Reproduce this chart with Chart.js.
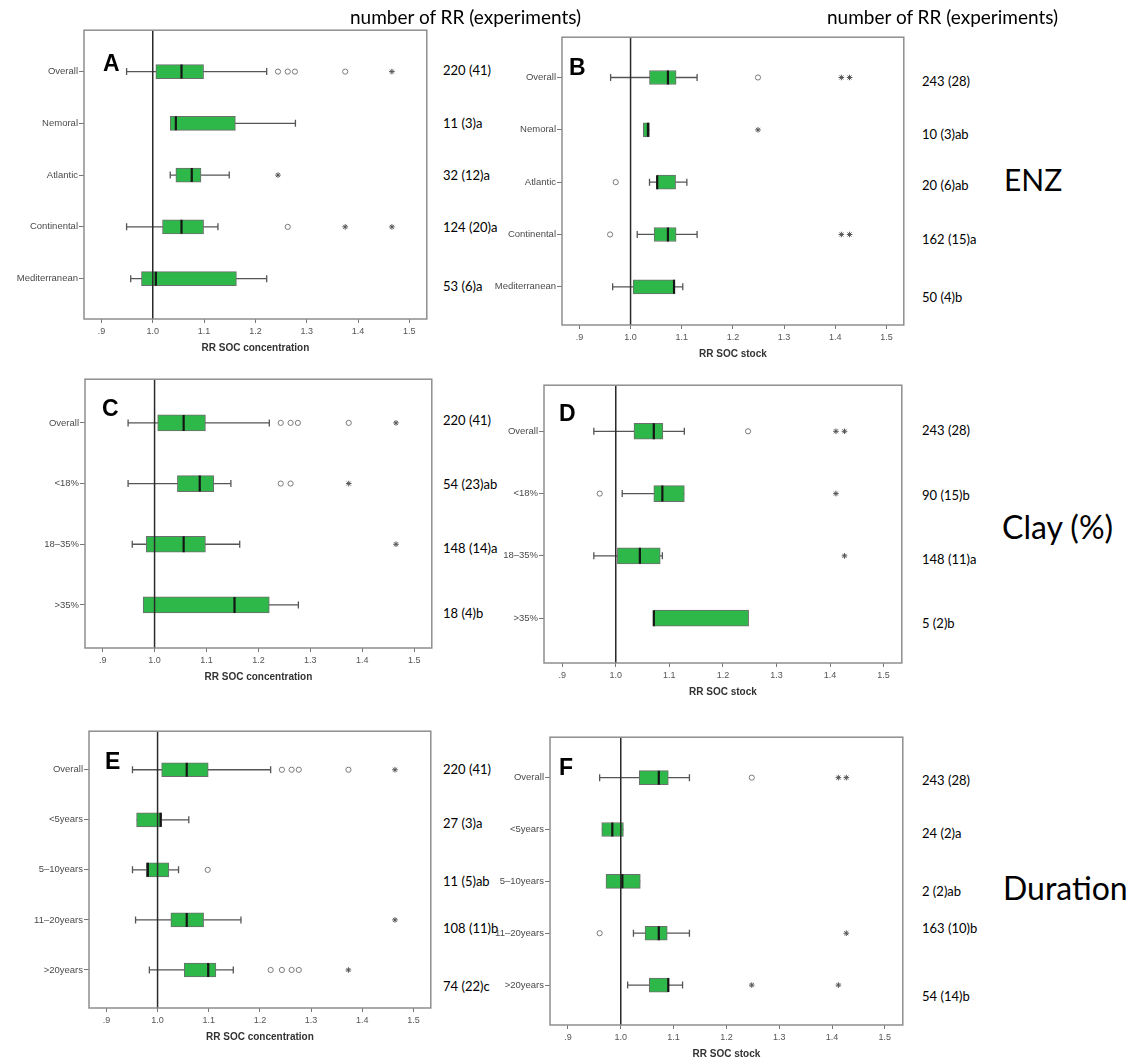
<!DOCTYPE html>
<html><head><meta charset="utf-8">
<script src="https://cdn.jsdelivr.net/npm/chart.js@4.4.0/dist/chart.umd.min.js"></script>
<style>
body{margin:0;background:#fff;width:1135px;height:1064px;position:relative;overflow:hidden;font-family:Lato,sans-serif}
.p{position:absolute}
.t{position:absolute;white-space:nowrap;color:#000;transform:translateY(-50%);line-height:1}
</style></head><body>
<script>
// x axis ticks shared by all panels
const xTicks = [0.9, 1.0, 1.1, 1.2, 1.3, 1.4, 1.5];
const xTickLabels = ['.9', '1.0', '1.1', '1.2', '1.3', '1.4', '1.5'];

// A - ENZ, SOC concentration
const catsA = ['Overall', 'Nemoral', 'Atlantic', 'Continental', 'Mediterranean'];
const loA  = [0.949, 1.034, 1.034, 0.949, 0.957];
const q1A  = [1.006, 1.034, 1.045, 1.019, 0.978];
const medA = [1.056, 1.045, 1.076, 1.056, 1.006];
const q3A  = [1.099, 1.161, 1.094, 1.099, 1.163];
const hiA  = [1.222, 1.278, 1.149, 1.127, 1.222];
const outA = [[1.244, 1.263, 1.277, 1.375], [], [], [1.263], []];
const extA = [[1.466], [], [1.244], [1.375, 1.466], []];
const nA   = ['220 (41)', '11 (3)a', '32 (12)a', '124 (20)a', '53 (6)a'];

// B - ENZ, SOC stock
const catsB = ['Overall', 'Nemoral', 'Atlantic', 'Continental', 'Mediterranean'];
const loB  = [0.961, 1.025, 1.037, 1.013, 0.965];
const q1B  = [1.037, 1.025, 1.052, 1.046, 1.005];
const medB = [1.073, 1.034, 1.052, 1.073, 1.085];
const q3B  = [1.089, 1.037, 1.088, 1.089, 1.086];
const hiB  = [1.130, 1.037, 1.110, 1.130, 1.102];
const outB = [[1.249], [], [0.971], [0.960], []];
const extB = [[1.412, 1.428], [1.249], [], [1.412, 1.428], []];
const nB   = ['243 (28)', '10 (3)ab', '20 (6)ab', '162 (15)a', '50 (4)b'];

// C - clay, SOC concentration
const catsC = ['Overall', '<18%', '18–35%', '>35%'];
const loC  = [0.949, 0.949, 0.957, 0.978];
const q1C  = [1.006, 1.044, 0.984, 0.978];
const medC = [1.056, 1.087, 1.056, 1.154];
const q3C  = [1.098, 1.114, 1.098, 1.221];
const hiC  = [1.221, 1.147, 1.164, 1.277];
const outC = [[1.243, 1.262, 1.276, 1.374], [1.243, 1.262], [], []];
const extC = [[1.465], [1.374], [1.465], []];
const nC   = ['220 (41)', '54 (23)ab', '148 (14)a', '18 (4)b'];

// D - clay, SOC stock
const catsD = ['Overall', '<18%', '18–35%', '>35%'];
const loD  = [0.959, 1.012, 0.959, 1.071];
const q1D  = [1.034, 1.071, 1.003, 1.071];
const medD = [1.071, 1.087, 1.045, 1.071];
const q3D  = [1.088, 1.128, 1.083, 1.248];
const hiD  = [1.128, 1.128, 1.087, 1.248];
const outD = [[1.247], [0.970], [], []];
const extD = [[1.411, 1.427], [1.411], [1.427], []];
const nD   = ['243 (28)', '90 (15)b', '148 (11)a', '5 (2)b'];

// E - duration, SOC concentration
const catsE = ['Overall', '<5years', '5–10years', '11–20years', '>20years'];
const loE  = [0.951, 0.959, 0.951, 0.957, 0.984];
const q1E  = [1.008, 0.959, 0.978, 1.026, 1.052];
const medE = [1.057, 1.006, 0.981, 1.057, 1.099];
const q3E  = [1.099, 1.008, 1.022, 1.090, 1.114];
const hiE  = [1.221, 1.061, 1.041, 1.163, 1.148];
const outE = [[1.243, 1.262, 1.276, 1.373], [], [1.098], [], [1.221, 1.243, 1.262, 1.276]];
const extE = [[1.464], [], [], [1.464], [1.373]];
const nE   = ['220 (41)', '27 (3)a', '11 (5)ab', '108 (11)b', '74 (22)c'];

// F - duration, SOC stock
const catsF = ['Overall', '<5years', '5–10years', '11–20years', '>20years'];
const loF  = [0.960, 0.964, 0.972, 1.024, 1.013];
const q1F  = [1.035, 0.964, 0.972, 1.046, 1.054];
const medF = [1.072, 0.984, 1.003, 1.072, 1.090];
const q3F  = [1.090, 1.005, 1.037, 1.088, 1.090];
const hiF  = [1.130, 1.005, 1.037, 1.130, 1.117];
const outF = [[1.248], [], [], [0.960], []];
const extF = [[1.412, 1.427], [], [], [1.427], [1.248, 1.412]];
const nF   = ['243 (28)', '24 (2)a', '2 (2)ab', '163 (10)b', '54 (14)b'];

// layout: frame = [left, top, right, bottom] of plot area
const panels = [
  {L: 'A', cats: catsA, lo: loA, q1: q1A, med: medA, q3: q3A, hi: hiA, out: outA, ext: extA, n: nA,
   title: 'RR SOC concentration', frame: [84, 25, 432, 319], yMin: -0.8, yMax: 4.78, bar: 14,
   nx: 443, ny: [70, 123, 175, 227, 286], letter: [103, 63]},
  {L: 'B', cats: catsB, lo: loB, q1: q1B, med: medB, q3: q3B, hi: hiB, out: outB, ext: extB, n: nB,
   title: 'RR SOC stock', frame: [562, 32, 909, 325], yMin: -0.77, yMax: 4.73, bar: 14,
   nx: 922, ny: [81, 134, 185, 239, 297], letter: [569, 67]},
  {L: 'C', cats: catsC, lo: loC, q1: q1C, med: medC, q3: q3C, hi: hiC, out: outC, ext: extC, n: nC,
   title: 'RR SOC concentration', frame: [85, 373, 438, 648], yMin: -0.72, yMax: 3.71, bar: 16,
   nx: 443, ny: [420, 484, 548, 613], letter: [102, 408]},
  {L: 'D', cats: catsD, lo: loD, q1: q1D, med: medD, q3: q3D, hi: hiD, out: outD, ext: extD, n: nD,
   title: 'RR SOC stock', frame: [544, 379, 908, 663], yMin: -0.74, yMax: 3.72, bar: 16,
   nx: 922, ny: [430, 495, 559, 623], letter: [559, 413]},
  {L: 'E', cats: catsE, lo: loE, q1: q1E, med: medE, q3: q3E, hi: hiE, out: outE, ext: extE, n: nE,
   title: 'RR SOC concentration', frame: [89, 726, 436, 1008], yMin: -0.77, yMax: 4.76, bar: 14,
   nx: 443, ny: [769, 823, 881, 928, 986], letter: [105, 761]},
  {L: 'F', cats: catsF, lo: loF, q1: q1F, med: medF, q3: q3F, hi: hiF, out: outF, ext: extF, n: nF,
   title: 'RR SOC stock', frame: [550, 732, 908, 1025], yMin: -0.78, yMax: 4.77, bar: 14,
   nx: 922, ny: [780, 833, 891, 928, 996], letter: [559, 767]}
];

const framePlugin = {
  id: 'frame',
  afterDraw(c) {
    const a = c.chartArea, ctx = c.ctx;
    ctx.save();
    ctx.strokeStyle = '#8e8e8e';
    ctx.lineWidth = 1.5;
    ctx.strokeRect(a.left, a.top, a.right - a.left, a.bottom - a.top);
    ctx.restore();
  }
};

function addText(txt, x, y, css) {
  const d = document.createElement('div');
  d.className = 't';
  d.textContent = txt;
  d.style.left = x + 'px';
  d.style.top = y + 'px';
  Object.assign(d.style, css || {});
  document.body.appendChild(d);
}

const yW = 80, padT = 4, padR = 4, xH = 35;

panels.forEach(p => {
  const [fl, ft, fr, fb] = p.frame;
  const w = fr - fl + yW + padR, h = fb - ft + padT + xH;
  const cv = document.createElement('canvas');
  cv.width = w; cv.height = h;
  cv.className = 'p';
  cv.style.left = (fl - yW) + 'px';
  cv.style.top = (ft - padT) + 'px';
  cv.style.width = w + 'px'; cv.style.height = h + 'px';
  document.body.appendChild(cv);

  const idx = p.cats.map((c, i) => i);
  const caps = [];
  idx.forEach(i => {
    if (p.lo[i] < p.q1[i]) caps.push({x: p.lo[i], y: i});
    if (p.hi[i] > p.q3[i]) caps.push({x: p.hi[i], y: i});
  });

  new Chart(cv.getContext('2d'), {
    type: 'bar',
    data: {
      datasets: [
        {type: 'scatter', showLine: true, spanGaps: false, order: 5,
         data: idx.flatMap(i => [{x: p.lo[i], y: i}, {x: p.hi[i], y: i}, {x: null, y: i}]),
         borderColor: '#555', borderWidth: 1.3, pointRadius: 0},
        {type: 'scatter', order: 4, data: caps, pointStyle: 'line', rotation: 90,
         pointRadius: 3.5, borderColor: '#555', borderWidth: 1.3},
        {type: 'bar', order: 3, data: idx.map(i => ({x: [p.q1[i], p.q3[i]], y: i})),
         backgroundColor: '#2eb84a', borderColor: '#6e6e6e', borderWidth: 1,
         borderSkipped: false, barThickness: p.bar},
        {type: 'scatter', showLine: true, order: 2,
         data: [{x: 1, y: p.yMin}, {x: 1, y: p.yMax}],
         borderColor: '#2a2a2a', borderWidth: 1.5, pointRadius: 0},
        {type: 'scatter', order: 1, data: idx.map(i => ({x: p.med[i], y: i})),
         pointStyle: 'line', rotation: 90, pointRadius: p.bar / 2,
         borderColor: '#151515', borderWidth: 2.2},
        {type: 'scatter', order: 0, data: idx.flatMap(i => p.out[i].map(v => ({x: v, y: i}))),
         pointStyle: 'circle', pointRadius: 2.6, backgroundColor: '#fff',
         borderColor: '#7a7a7a', borderWidth: 1},
        {type: 'scatter', order: 0, data: idx.flatMap(i => p.ext[i].map(v => ({x: v, y: i}))),
         pointStyle: 'star', pointRadius: 2.8, borderColor: '#555', borderWidth: 1}
      ]
    },
    options: {
      indexAxis: 'y',
      responsive: false,
      animation: false,
      events: [],
      layout: {padding: {top: padT, right: padR, left: 0, bottom: 0}},
      plugins: {legend: {display: false}, tooltip: {enabled: false}},
      scales: {
        x: {
          type: 'linear', min: 0.866, max: 1.534, offset: false,
          afterBuildTicks: s => { s.ticks = xTicks.map(v => ({value: v})); },
          afterFit: s => { s.height = xH; },
          ticks: {callback: (v, i) => xTickLabels[i], font: {family: 'Liberation Sans', size: 9},
                  color: '#555', padding: 3, maxRotation: 0, autoSkip: false},
          grid: {drawOnChartArea: false, offset: false, tickLength: 4, color: '#777'},
          border: {display: false},
          title: {display: true, text: p.title, color: '#333', padding: 0,
                  font: {family: 'Liberation Sans', size: 10, weight: 'bold'}}
        },
        y: {
          type: 'linear', reverse: true, min: p.yMin, max: p.yMax, offset: false,
          afterBuildTicks: s => { s.ticks = idx.map(i => ({value: i})); },
          afterFit: s => { s.width = yW; },
          ticks: {callback: (v, i) => p.cats[i], font: {family: 'Liberation Sans', size: 9.5},
                  color: '#4a4a4a', padding: 1, autoSkip: false},
          grid: {drawOnChartArea: false, offset: false, tickLength: 5, color: '#777'},
          border: {display: false}
        }
      }
    },
    plugins: [framePlugin]
  });

  p.n.forEach((s, i) => addText(s, p.nx, p.ny[i], {fontSize: '13px'}));
  addText(p.L, p.letter[0], p.letter[1],
          {fontFamily: 'Liberation Sans', fontWeight: 'bold', fontSize: '23px'});
});

addText('number of RR (experiments)', 350, 16, {fontSize: '19px'});
addText('number of RR (experiments)', 827, 16, {fontSize: '19px'});
addText('ENZ', 1004, 179, {fontSize: '30px'});
addText('Clay (%)', 1002, 527, {fontSize: '32px'});
addText('Duration', 1003, 888, {fontSize: '32px'});
</script>
</body></html>
